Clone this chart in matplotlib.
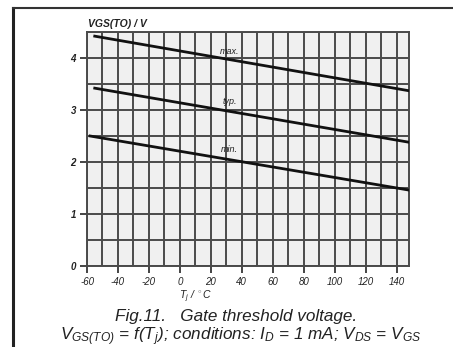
import matplotlib.pyplot as plt
import numpy as np

plt.rcParams['font.family'] = ['Liberation Sans', 'DejaVu Sans']
plt.rcParams['mathtext.fontset'] = 'custom'
plt.rcParams['mathtext.rm'] = 'Liberation Sans:italic'
plt.rcParams['mathtext.it'] = 'Liberation Sans:italic'

# junction temperature (degC) at the ends of each curve
tj_start = [-55, -55, -58]
tj_end = [148, 148, 148]
# gate threshold voltage (V) at start / end
vgs_max = [4.42, 3.37]
vgs_typ = [3.42, 2.38]
vgs_min = [2.50, 1.46]
curve_names = ['max.', 'typ.', 'min.']
label_pos = [(32, 4.13), (32, 3.17), (32, 2.25)]

x_ticks = [-60, -40, -20, 0, 20, 40, 60, 80, 100, 120, 140]
y_ticks = [0, 1, 2, 3, 4]

fig = plt.figure(figsize=(4.53, 3.47), dpi=100)
ax = fig.add_axes([87 / 453, 1 - 266 / 347, 322 / 453, 234 / 347])
ax.set_facecolor('#f0f0f0')

# fine grid: every 10 degC and every 0.5 V
for x in np.arange(-60, 150, 10):
    ax.axvline(x, color='#4a4a4a', lw=1.4, zorder=1)
for y in np.arange(0, 4.6, 0.5):
    ax.axhline(y, color='#4a4a4a', lw=1.4, zorder=1)

for vals, x0, x1 in zip([vgs_max, vgs_typ, vgs_min], tj_start, tj_end):
    ax.plot([x0, x1], vals, color='#111111', lw=2.0, zorder=3)

for name, (lx, ly) in zip(curve_names, label_pos):
    ax.text(lx, ly, name, fontsize=6.5, style='italic', ha='center', va='center',
            color='#222222', zorder=4)

ax.set_xlim(-60, 148)
ax.set_ylim(0, 4.5)
ax.set_xticks(x_ticks)
ax.set_yticks(y_ticks)
ax.set_xticklabels([str(v) for v in x_ticks], fontsize=7, style='italic')
ax.set_yticklabels([str(v) for v in y_ticks], fontsize=7, style='italic', fontweight='bold')
ax.tick_params(length=5, width=1.4, color='#444444', pad=3, labelcolor='#222222')
for s in ax.spines.values():
    s.set_color('#4a4a4a')
    s.set_linewidth(1.4)

fig.text(88 / 453, 1 - 24 / 347, 'VGS(TO) / V', fontsize=7.5, style='italic',
         fontweight='bold', va='center', ha='left', color='#222222')
fig.text(196 / 453, 1 - 297 / 347, r'T$_j$ / $^\circ$C', fontsize=7.5, style='italic',
         va='center', ha='center', color='#222222')
fig.text(236 / 453, 1 - 316 / 347, 'Fig.11.   Gate threshold voltage.', fontsize=12.3,
         style='italic', va='center', ha='center', color='#222222')
fig.text(241 / 453, 1 - 337 / 347,
         r'V$_{GS(TO)}$ = f(T$_j$); conditions: I$_D$ = 1 mA; V$_{DS}$ = V$_{GS}$',
         fontsize=12.3, style='italic', va='center', ha='center', color='#222222')

# page frame
fig.add_artist(plt.Line2D([13 / 453, 13 / 453], [0, 1 - 8 / 347], color='#222222', lw=2.2))
fig.add_artist(plt.Line2D([13 / 453, 1], [1 - 8 / 347, 1 - 8 / 347], color='#333333', lw=1.5))

fig.savefig('out.png', dpi=100)
